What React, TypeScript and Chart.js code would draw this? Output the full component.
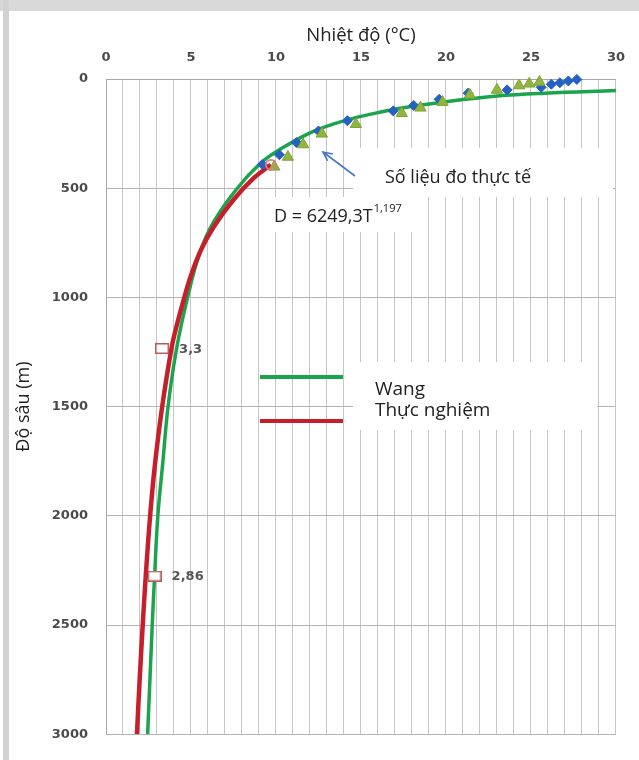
import React, { useEffect, useRef } from 'react';
import { Chart, registerables } from 'chart.js';

Chart.register(...registerables);

// ---------- data ----------
const xTickValues = [0, 5, 10, 15, 20, 25, 30];
const yTickValues = [0, 500, 1000, 1500, 2000, 2500, 3000];

const seriesNames = ['Wang', 'Thực nghiệm'];

// Wang curve (temperature °C, depth m)
const wangT = [30, 25.8, 23.0, 20.0, 17.3, 16.0, 14.2, 12.2, 10.2, 9.1, 7.65, 6.3, 5.5, 4.8, 4.15, 3.65, 3.35, 3.05, 2.86, 2.72, 2.45];
const wangD = [53, 65, 78, 104, 134, 154, 187, 240, 324, 385, 507, 659, 800, 1000, 1235, 1500, 1750, 2000, 2274, 2500, 3000];

// Experimental curve D = 6249,3T^1,197
const expT = [9.7, 8.7, 7.5, 6.35, 5.6, 5.0, 4.6, 4.1, 3.85, 3.3, 2.87, 2.59, 2.34, 2.16, 1.98, 1.82];
const expD = [393, 453, 553, 675, 781, 900, 1002, 1147, 1235, 1503, 1772, 2006, 2274, 2500, 2750, 3000];

// Measured data: blue diamonds
const diamondT = [27.7, 27.2, 26.7, 26.2, 25.6, 23.6, 21.3, 19.6, 18.1, 16.9, 14.2, 12.5, 11.2, 10.2, 9.2];
const diamondD = [2, 9, 17, 24, 38, 50, 65, 93, 121, 146, 191, 238, 291, 347, 392];

// Measured data: green triangles
const triangleT = [25.5, 24.9, 24.3, 23.0, 21.4, 19.8, 18.5, 17.4, 14.7, 12.7, 11.6, 10.7, 9.9];
const triangleD = [14, 22, 30, 50, 73, 106, 132, 157, 207, 251, 300, 357, 402];

// End point of the experimental curve
const endT = [9.7];
const endD = [393];

// Labelled gradient markers
const markT = [3.3, 2.86];
const markD = [1234, 2276];
const markLabels = ['3,3', '2,86'];

const xTitle = 'Nhiệt độ (°C)';
const yTitle = 'Độ sâu (m)';
const measuredNote = 'Số liệu đo thực tế';
const formulaMain = 'D = 6249,3T';
const formulaExp = '1,197';

// ---------- styles ----------
const GREEN = '#1ba44c';
const RED = '#c61f2b';
const BLUE = '#2461c0';
const OLIVE = '#90b63e';
const TEXT_FONT = '"Open Sans", "Noto Sans", sans-serif';
const TICK_FONT = '"DejaVu Sans", sans-serif';

const toPts = (xs: number[], ys: number[]) => xs.map((x, i) => ({ x, y: ys[i] }));

function makeRectMarker(): HTMLCanvasElement {
  const c = document.createElement('canvas');
  c.width = 14;
  c.height = 11;
  const g = c.getContext('2d')!;
  g.fillStyle = '#ffffff';
  g.fillRect(0, 0, 14, 11);
  g.strokeStyle = '#b85a5a';
  g.lineWidth = 1.5;
  g.strokeRect(0.75, 0.75, 12.5, 9.5);
  return c;
}

const annotationPlugin = {
  id: 'customAnnotations',
  beforeDatasetsDraw(chart: any) {
    const { ctx } = chart;
    ctx.save();
    ctx.fillStyle = '#ffffff';
    // box behind "Số liệu đo thực tế"
    ctx.fillRect(353, 148, 260, 49);
    // box behind formula
    ctx.fillRect(268, 197, 157, 35);
    // box behind legend texts
    ctx.fillRect(353, 362, 244, 68);
    ctx.restore();
  },
  afterDatasetsDraw(chart: any) {
    const { ctx, scales } = chart;
    const xs = scales.x;
    const ys = scales.y;
    ctx.save();

    // legend
    const legendY = [377, 421];
    const textY = [395, 416];
    chart.data.datasets.slice(0, 2).forEach((ds: any, i: number) => {
      ctx.strokeStyle = ds.borderColor;
      ctx.lineWidth = 4;
      ctx.beginPath();
      ctx.moveTo(260, legendY[i]);
      ctx.lineTo(343, legendY[i]);
      ctx.stroke();
      ctx.fillStyle = '#222';
      ctx.font = `19px ${TEXT_FONT}`;
      ctx.textAlign = 'left';
      ctx.textBaseline = 'alphabetic';
      ctx.fillText(ds.label, 375, textY[i]);
    });

    // measured-data note
    ctx.fillStyle = '#222';
    ctx.font = `18px ${TEXT_FONT}`;
    ctx.fillText(measuredNote, 385, 183);

    // formula
    ctx.font = `18px ${TEXT_FONT}`;
    ctx.fillText(formulaMain, 274, 222);
    const w = ctx.measureText(formulaMain).width;
    ctx.font = `11px ${TEXT_FONT}`;
    ctx.fillText(formulaExp, 274 + w + 1, 212);

    // arrow
    ctx.strokeStyle = '#4677c6';
    ctx.lineWidth = 1.6;
    const x1 = 355, y1 = 176, x2 = 323, y2 = 152;
    ctx.beginPath();
    ctx.moveTo(x1, y1);
    ctx.lineTo(x2, y2);
    const ang = Math.atan2(y1 - y2, x1 - x2);
    const hl = 10;
    ctx.moveTo(x2 + hl * Math.cos(ang + 0.45), y2 + hl * Math.sin(ang + 0.45));
    ctx.lineTo(x2, y2);
    ctx.lineTo(x2 + hl * Math.cos(ang - 0.45), y2 + hl * Math.sin(ang - 0.45));
    ctx.stroke();

    // labels of gradient markers
    ctx.fillStyle = '#555';
    ctx.font = `bold 13px ${TICK_FONT}`;
    ctx.textBaseline = 'middle';
    markT.forEach((t, i) => {
      const px = xs.getPixelForValue(t);
      const py = ys.getPixelForValue(markD[i]);
      ctx.fillText(markLabels[i], px + 17, py + 1);
    });

    ctx.restore();
  },
};

export default function App() {
  const ref = useRef<HTMLCanvasElement | null>(null);

  useEffect(() => {
    if (!ref.current) return;
    const rectMarker = makeRectMarker();
    const chart = new Chart(ref.current, {
      type: 'scatter',
      data: {
        datasets: [
          {
            label: seriesNames[0],
            data: toPts(wangT, wangD),
            showLine: true,
            borderColor: GREEN,
            backgroundColor: GREEN,
            borderWidth: 3.5,
            pointRadius: 0,
            tension: 0.4,
            order: 6,
          },
          {
            label: seriesNames[1],
            data: toPts(expT, expD),
            showLine: true,
            borderColor: RED,
            backgroundColor: RED,
            borderWidth: 4.5,
            pointRadius: 0,
            tension: 0.4,
            order: 5,
          },
          {
            label: 'diamonds',
            data: toPts(diamondT, diamondD),
            showLine: false,
            pointStyle: 'rectRot',
            pointRadius: 5,
            backgroundColor: BLUE,
            borderColor: BLUE,
            borderWidth: 1,
            clip: false,
            order: 3,
          },
          {
            label: 'triangles',
            data: toPts(triangleT, triangleD),
            showLine: false,
            pointStyle: 'triangle',
            pointRadius: 6.5,
            backgroundColor: OLIVE,
            borderColor: '#7fa232',
            borderWidth: 1,
            clip: false,
            order: 2,
          },
          {
            label: 'end',
            data: toPts(endT, endD),
            showLine: false,
            pointStyle: 'circle',
            pointRadius: 5,
            backgroundColor: 'rgba(0,0,0,0)',
            borderColor: '#e07a84',
            borderWidth: 1.8,
            order: 1,
          },
          {
            label: 'marks',
            data: toPts(markT, markD),
            showLine: false,
            pointStyle: rectMarker,
            pointRadius: 6,
            order: 0,
          },
        ],
      },
      options: {
        responsive: false,
        animation: false,
        events: [],
        layout: { padding: { left: 0, top: 0, right: 21, bottom: 24 } },
        plugins: {
          legend: { display: false },
          tooltip: { enabled: false },
        },
        scales: {
          x: {
            type: 'linear',
            position: 'top',
            min: 0,
            max: 30,
            afterFit: (s: any) => {
              s.height = 79;
            },
            ticks: {
              stepSize: 1,
              autoSkip: false,
              maxRotation: 0,
              padding: 14,
              color: '#4a4a4a',
              font: { family: TICK_FONT, size: 13, weight: 'bold' },
              callback: (v: any) => (xTickValues.includes(Number(v)) ? String(v) : ''),
            },
            grid: { color: '#c6c6c6', lineWidth: 1, drawTicks: false },
            border: { color: '#a8a8a8' },
            title: {
              display: true,
              text: xTitle,
              color: '#222',
              font: { family: TEXT_FONT, size: 18.5 },
              padding: { top: 25, bottom: 0 },
            },
          },
          y: {
            type: 'linear',
            reverse: true,
            min: 0,
            max: 3000,
            afterFit: (s: any) => {
              s.width = 106;
            },
            ticks: {
              stepSize: 500,
              autoSkip: false,
              padding: 18,
              color: '#4a4a4a',
              font: { family: TICK_FONT, size: 13, weight: 'bold' },
              callback: (v: any) => (yTickValues.includes(Number(v)) ? String(v) : ''),
            },
            grid: { color: '#b4b4b4', lineWidth: 1, drawTicks: false },
            border: { color: '#a8a8a8' },
            title: {
              display: true,
              text: yTitle,
              color: '#222',
              font: { family: TEXT_FONT, size: 18 },
              padding: { top: 13, bottom: 0 },
            },
          },
        },
      },
      plugins: [annotationPlugin],
    } as any);
    return () => chart.destroy();
  }, []);

  return (
    <div style={{ position: 'absolute', left: 0, top: 0, width: 639, height: 760, background: '#ffffff', overflow: 'hidden' }}>
      <div style={{ position: 'absolute', left: 0, top: 0, width: 639, height: 11, background: '#d9d9d9' }} />
      <div style={{ position: 'absolute', left: 3, top: 0, width: 6, height: 760, background: '#d2d2d2' }} />
      <canvas
        ref={ref}
        width={639}
        height={760}
        style={{ position: 'absolute', left: 0, top: 0, width: 639, height: 760 }}
      />
    </div>
  );
}
